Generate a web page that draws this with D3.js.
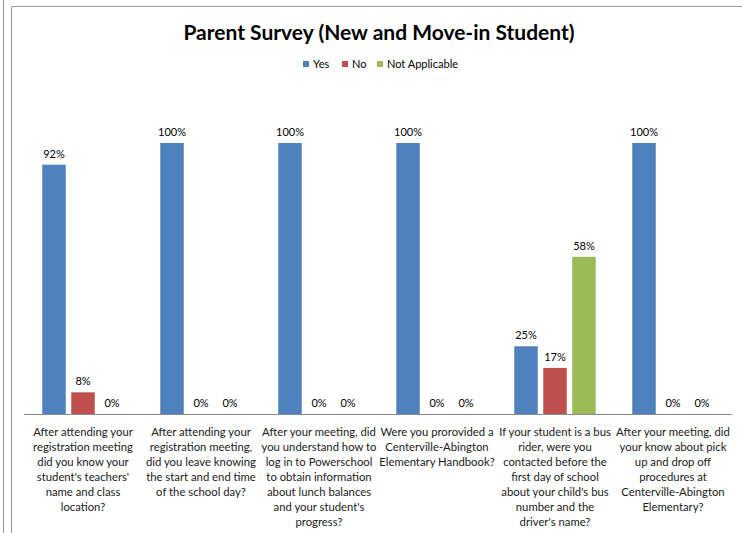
<!DOCTYPE html>
<html>
<head>
<meta charset="utf-8">
<script src="https://cdn.jsdelivr.net/npm/d3@7"></script>
<style>
  html, body { margin: 0; padding: 0; background: #fff; }
  svg { display: block; }
  text { font-family: Lato, "Open Sans", sans-serif; }
</style>
</head>
<body>
<svg id="chart" width="742" height="533"></svg>
<script>
// Survey questions (wrapped as they appear under the axis)
const categories = [
  ["After attending your", "registration meeting", "did you know your", "student's teachers'", "name and class", "location?"],
  ["After attending your", "registration meeting,", "did you leave knowing", "the start and end time", "of the school day?"],
  ["After your meeting, did", "you understand how to", "log in to Powerschool", "to obtain information", "about lunch balances", "and your student's", "progress?"],
  ["Were you prorovided a", "Centerville-Abington", "Elementary Handbook?"],
  ["If your student is a bus", "rider, were you", "contacted before the", "first day of school", "about your child's bus", "number and the", "driver's name?"],
  ["After your meeting, did", "your know about pick", "up and drop off", "procedures at", "Centerville-Abington", "Elementary?"]
];

const seriesNames = ["Yes", "No", "Not Applicable"];
const seriesColors = ["#4F81BD", "#C0504D", "#9BBB59"];

// Share of responses per question
const yesValues = [0.92, 1.00, 1.00, 1.00, 0.25, 1.00];
const noValues  = [0.08, 0.00, 0.00, 0.00, 0.17, 0.00];
const naValues  = [0.00, 0.00, 0.00, 0.00, 0.58, 0.00];

const seriesValues = [yesValues, noValues, naValues];

const svg = d3.select("#chart");

// Frame lines
svg.append("line").attr("x1", 3.5).attr("x2", 3.5).attr("y1", 0).attr("y2", 533)
  .attr("stroke", "#9a9a9a").attr("stroke-width", 1);
svg.append("path").attr("d", "M11.5,533 V6.5 H742")
  .attr("fill", "none").attr("stroke", "#9a9a9a").attr("stroke-width", 1);

// Title
svg.append("text")
  .attr("x", 379).attr("y", 40)
  .attr("text-anchor", "middle")
  .attr("font-size", 21).attr("font-weight", 700).attr("fill", "#000")
  .text("Parent Survey (New and Move-in Student)");

// Scales
const x0 = d3.scaleBand().domain(d3.range(categories.length)).range([24, 732]).padding(0);
const x1 = d3.scaleBand().domain(d3.range(seriesNames.length))
  .range([0, x0.bandwidth()]).paddingInner(0.19).paddingOuter(0.63);
const y = d3.scaleLinear().domain([0, 1]).range([414, 143]);

// Legend
const legendX = [303, 342, 377];
const legend = svg.append("g");
seriesNames.forEach((name, i) => {
  legend.append("rect").attr("x", legendX[i]).attr("y", 61).attr("width", 6).attr("height", 6)
    .attr("fill", seriesColors[i]);
  legend.append("text").attr("x", legendX[i] + 10).attr("y", 68)
    .attr("font-size", 11).attr("fill", "#000").text(name);
});

// Bars and value labels
seriesValues.forEach((vals, s) => {
  const g = svg.append("g");
  vals.forEach((v, c) => {
    const bx = x0(c) + x1(s);
    const bw = x1.bandwidth();
    if (v > 0) {
      g.append("rect")
        .attr("x", bx).attr("y", y(v))
        .attr("width", bw).attr("height", y(0) - y(v))
        .attr("fill", seriesColors[s]);
    }
    g.append("text")
      .attr("x", bx + bw / 2).attr("y", y(v) - 7)
      .attr("text-anchor", "middle")
      .attr("font-size", 11).attr("fill", "#000")
      .text(d3.format(".0%")(v));
  });
});

// Category axis
const axis = d3.axisBottom(x0).tickSize(0).tickFormat("");
const ag = svg.append("g").attr("transform", `translate(0,${y(0)})`).call(axis);
ag.select(".domain").attr("stroke", "#8c8c8c").attr("d", `M24,0.5H732`);

categories.forEach((lines, c) => {
  const t = svg.append("text")
    .attr("text-anchor", "middle")
    .attr("font-size", 11.3).attr("fill", "#1a1a1a");
  lines.forEach((ln, i) => {
    t.append("tspan")
      .attr("x", x0(c) + x0.bandwidth() / 2)
      .attr("y", 436 + i * 15)
      .text(ln);
  });
});
</script>
</body>
</html>
